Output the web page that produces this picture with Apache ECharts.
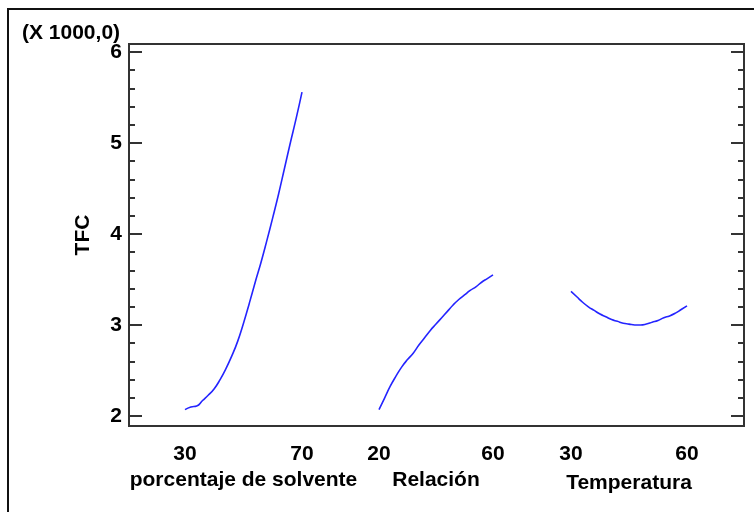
<!DOCTYPE html>
<html><head><meta charset="utf-8">
<script src="https://cdn.jsdelivr.net/npm/echarts@6/dist/echarts.min.js"></script>
<style>html,body{margin:0;padding:0;background:#fff}#c{width:754px;height:512px}</style>
</head><body><div id="c"></div>
<script>
// Factor names and tick labels
const factorNames = ['porcentaje de solvente', 'Relación', 'Temperatura'];
const solventeX = [30,32,34,36,38,40,42,44,46,48,50,52,54,56,58,60,62,64,66,68,70];
const solventeY = [2070,2100,2110,2170,2230,2300,2400,2520,2660,2820,3020,3240,3470,3690,3930,4180,4440,4720,5000,5270,5560];
const relacionX = [20,22,24,26,28,30,32,34,36,38,40,42,44,46,48,50,52,54,56,58,60];
const relacionY = [2070,2200,2330,2440,2540,2620,2690,2780,2860,2940,3010,3080,3150,3220,3280,3330,3380,3420,3470,3510,3550];
const temperaturaX = [30,31.5,33,34.5,36,37.5,39,40.5,42,43.5,45,46.5,48,49.5,51,52.5,54,55.5,57,58.5,60];
const temperaturaY = [3370,3310,3250,3200,3160,3120,3090,3060,3040,3020,3010,3000,3000,3010,3030,3050,3080,3100,3130,3170,3210];
const solventeTicks = [30, 70];
const relacionTicks = [20, 60];
const temperaturaTicks = [30, 60];
const yMajorTicks = [2000, 3000, 4000, 5000, 6000];
const yMinorTicks = [2000,2200,2400,2600,2800,3000,3200,3400,3600,3800,4000,4200,4400,4600,4800,5000,5200,5400,5600,5800,6000];
const yMin = 1890, yMax = 6088;

const FONT = "'Liberation Sans',Arial,sans-serif";
const lbl = {color:'#000', fontWeight:'bold', fontFamily: FONT, fontSize: 21};

const TOP = 44, H = 382;
const grids = [
  {left:129, top:TOP, width:615, height:H, show:true, borderColor:'#333', borderWidth:2, backgroundColor:'#fff'},
  {left:185, top:TOP, width:117, height:H},
  {left:379, top:TOP, width:114, height:H},
  {left:571, top:TOP, width:116, height:H}
];
function hiddenX(gi){return {type:'value', gridIndex:gi, min:0, max:1, show:false};}
function factorX(gi, ticks, name, gap){
  return {type:'value', gridIndex:gi, min:ticks[0], max:ticks[1],
    axisLine:{show:false}, axisTick:{show:false}, splitLine:{show:false},
    axisLabel:Object.assign({customValues:ticks, margin:18}, lbl),
    name:name, nameLocation:'middle', nameGap:gap, nameTextStyle:lbl};
}
function yAx(gi, opts){
  return Object.assign({type:'value', gridIndex:gi, min:yMin, max:yMax,
    splitLine:{show:false}, axisLine:{show:false}}, opts);
}
const yAxes = [
  yAx(0, {position:'left', axisTick:{inside:true, length:13, lineStyle:{color:'#333', width:2}, customValues:yMajorTicks},
    axisLabel:Object.assign({customValues:yMajorTicks, margin:7, formatter:v=>String(v/1000)}, lbl),
    name:'TFC', nameLocation:'middle', nameGap:35, nameRotate:90, nameTextStyle:lbl}),
  yAx(0, {position:'left', axisTick:{inside:true, length:6, lineStyle:{color:'#333', width:2}, customValues:yMinorTicks}, axisLabel:{show:false}}),
  yAx(0, {position:'right', axisTick:{inside:true, length:13, lineStyle:{color:'#333', width:2}, customValues:yMajorTicks}, axisLabel:{show:false}}),
  yAx(0, {position:'right', axisTick:{inside:true, length:6, lineStyle:{color:'#333', width:2}, customValues:yMinorTicks}, axisLabel:{show:false}}),
  yAx(1, {show:false}), yAx(2, {show:false}), yAx(3, {show:false})
];
const lineStyle = {color:'#2424ff', width:1.6};
function zip(a,b){return a.map((x,i)=>[x,b[i]]);}
const option = {
  animation:false,
  backgroundColor:'#fff',
  graphic:[{type:'rect', shape:{x:8, y:9, width:760, height:520}, style:{fill:'none', stroke:'#111', lineWidth:2}, z:-10}],
  title:{text:'(X 1000,0)', left:22, top:23, padding:0, textStyle:lbl},
  grid:grids,
  xAxis:[hiddenX(0),
    factorX(1, solventeTicks, factorNames[0], 39),
    factorX(2, relacionTicks, factorNames[1], 35),
    factorX(3, temperaturaTicks, factorNames[2], 47)],
  yAxis:yAxes,
  series:[
    {type:'line', xAxisIndex:1, yAxisIndex:4, data:zip(solventeX, solventeY), showSymbol:false, smooth:true, lineStyle:lineStyle},
    {type:'line', xAxisIndex:2, yAxisIndex:5, data:zip(relacionX, relacionY), showSymbol:false, smooth:true, lineStyle:lineStyle},
    {type:'line', xAxisIndex:3, yAxisIndex:6, data:zip(temperaturaX, temperaturaY), showSymbol:false, smooth:true, lineStyle:lineStyle}
  ]
};
echarts.init(document.getElementById('c'), null, {renderer:'canvas'}).setOption(option);
</script></body></html>
